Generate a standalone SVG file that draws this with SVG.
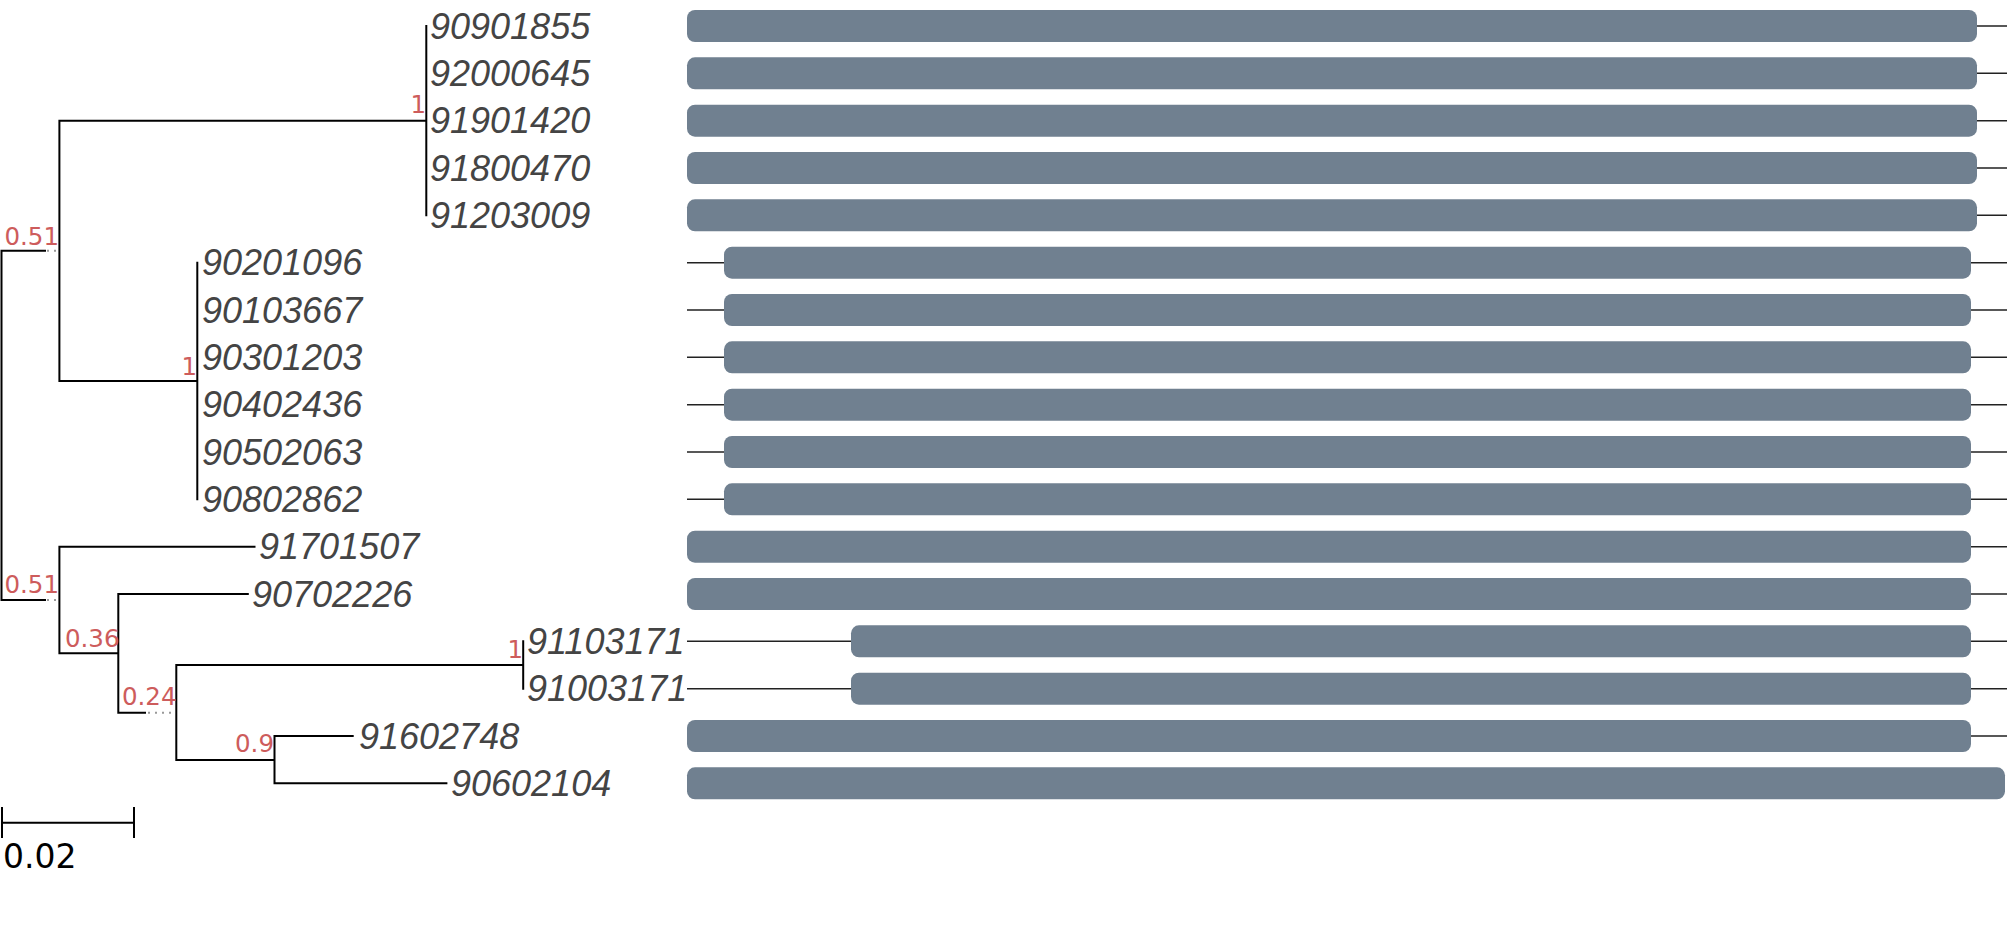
<svg xmlns="http://www.w3.org/2000/svg" width="2007" height="941" viewBox="0 0 2007 941">
<style>
.br{stroke:#000;stroke-width:2;fill:none;stroke-linecap:square}
.dot{stroke:#999;stroke-width:2;stroke-dasharray:2 5;fill:none}
.leaf{font-family:"Liberation Sans",Arial,sans-serif;font-style:italic;font-size:36px;fill:#444}
.sup{font-family:"DejaVu Sans",sans-serif;font-size:24.5px;fill:#cd5c5c;text-anchor:end}
.bar{fill:#708090}
.cn{stroke:#222;stroke-width:1.5}
</style>
<rect width="2007" height="941" fill="#fff"/>
<g id="tree">
<path class="br" d="M1.5,250.8V600 M1.5,250.8H45 M1.5,600H45 M59.4,120.7V381 M59.4,120.7H426.3 M426.3,26V215.3 M59.4,381H197.3 M197.3,262.7V499.3 M59.4,546.7V653.3 M59.4,546.7H254.5 M59.4,653.3H118.3 M118.3,594V712.7 M118.3,594H247.8 M118.3,712.7H145 M176.3,665V760 M176.3,665H523.2 M523.2,641.3V688.7 M176.3,760H274.5 M274.5,736V783.3 M274.5,736H352.7 M274.5,783.3H446.4"/>
<path class="dot" d="M47,250.8H59 M47,600H59 M148,712.7H176"/>
</g>
<g id="supports">
<text class="sup" x="426" y="113">1</text>
<text class="sup" x="59" y="245">0.51</text>
<text class="sup" x="197" y="375">1</text>
<text class="sup" x="59" y="593">0.51</text>
<text class="sup" x="119.5" y="647">0.36</text>
<text class="sup" x="523" y="658">1</text>
<text class="sup" x="176.5" y="705">0.24</text>
<text class="sup" x="274" y="752">0.9</text>
</g>
<g id="leaves">
<text class="leaf" x="430" y="38.5">90901855</text>
<text class="leaf" x="430" y="85.8">92000645</text>
<text class="leaf" x="430" y="133.2">91901420</text>
<text class="leaf" x="430" y="180.5">91800470</text>
<text class="leaf" x="430" y="227.8">91203009</text>
<text class="leaf" x="202" y="275.2">90201096</text>
<text class="leaf" x="202" y="322.5">90103667</text>
<text class="leaf" x="202" y="369.8">90301203</text>
<text class="leaf" x="202" y="417.2">90402436</text>
<text class="leaf" x="202" y="464.5">90502063</text>
<text class="leaf" x="202" y="511.8">90802862</text>
<text class="leaf" x="259" y="559.2">91701507</text>
<text class="leaf" x="252" y="606.5">90702226</text>
<text class="leaf" x="527" y="653.8">91103171</text>
<text class="leaf" x="527" y="701.2">91003171</text>
<text class="leaf" x="359" y="748.5">91602748</text>
<text class="leaf" x="451" y="795.8">90602104</text>
</g>
<g id="connectors">
<path class="cn" d="M1977,26H2007 M1977,73.3H2007 M1977,120.7H2007 M1977,168H2007 M1977,215.3H2007 M687,262.7H724 M1971,262.7H2007 M687,310H724 M1971,310H2007 M687,357.3H724 M1971,357.3H2007 M687,404.7H724 M1971,404.7H2007 M687,452H724 M1971,452H2007 M687,499.3H724 M1971,499.3H2007 M1971,546.7H2007 M1971,594H2007 M687,641.3H851 M1971,641.3H2007 M687,688.7H851 M1971,688.7H2007 M1971,736H2007"/>
</g>
<g id="bars">
<rect class="bar" x="687" y="10" width="1290" height="32" rx="8"/>
<rect class="bar" x="687" y="57.3" width="1290" height="32" rx="8"/>
<rect class="bar" x="687" y="104.7" width="1290" height="32" rx="8"/>
<rect class="bar" x="687" y="152" width="1290" height="32" rx="8"/>
<rect class="bar" x="687" y="199.3" width="1290" height="32" rx="8"/>
<rect class="bar" x="724" y="246.7" width="1247" height="32" rx="8"/>
<rect class="bar" x="724" y="294" width="1247" height="32" rx="8"/>
<rect class="bar" x="724" y="341.3" width="1247" height="32" rx="8"/>
<rect class="bar" x="724" y="388.7" width="1247" height="32" rx="8"/>
<rect class="bar" x="724" y="436" width="1247" height="32" rx="8"/>
<rect class="bar" x="724" y="483.3" width="1247" height="32" rx="8"/>
<rect class="bar" x="687" y="530.7" width="1284" height="32" rx="8"/>
<rect class="bar" x="687" y="578" width="1284" height="32" rx="8"/>
<rect class="bar" x="851" y="625.3" width="1120" height="32" rx="8"/>
<rect class="bar" x="851" y="672.7" width="1120" height="32" rx="8"/>
<rect class="bar" x="687" y="720" width="1284" height="32" rx="8"/>
<rect class="bar" x="687" y="767.3" width="1318" height="32" rx="8"/>
</g>
<g id="scale">
<path class="br" d="M2,822.7H134 M2,808V837 M134,808V837"/>
<text x="3" y="868" style="font-family:'DejaVu Sans',sans-serif;font-size:33px;fill:#000">0.02</text>
</g>
</svg>
